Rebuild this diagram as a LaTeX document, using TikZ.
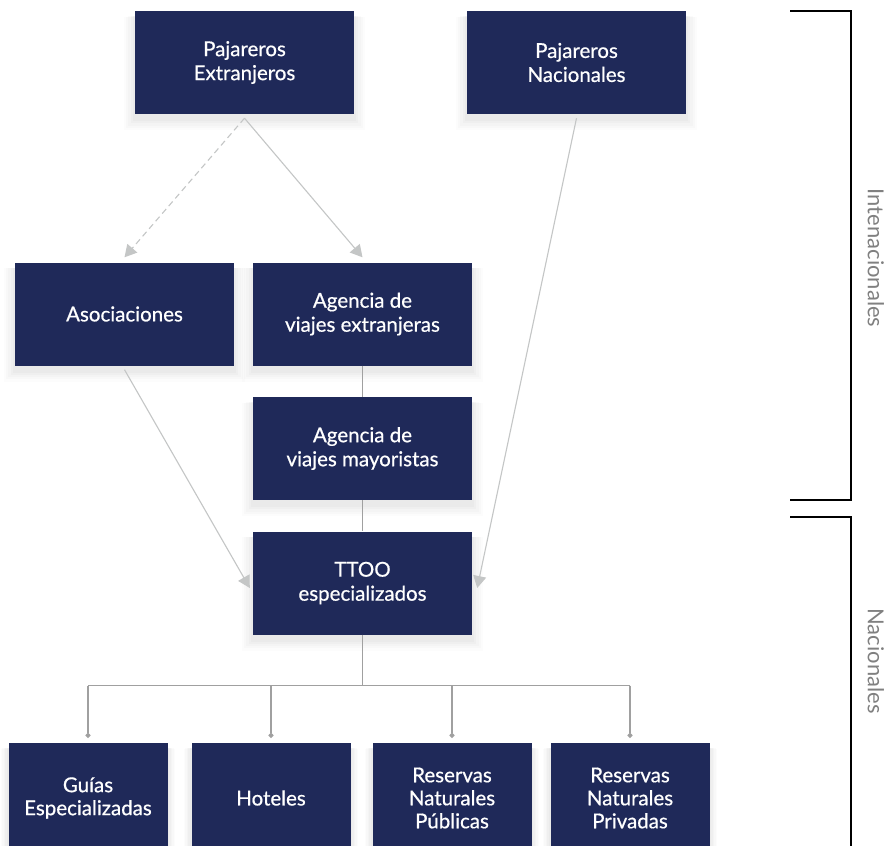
\documentclass[tikz,border=0pt]{standalone}
\usepackage{fontspec}
\setmainfont{Lato}
\newfontfamily\boxfont{Lato}[FakeBold=0.6]
\usetikzlibrary{arrows.meta,shadows}
\definecolor{navy}{RGB}{31,41,89}
\definecolor{linegray}{RGB}{196,198,198}
\definecolor{busgray}{RGB}{160,160,160}
\definecolor{labgray}{RGB}{128,128,128}
\begin{document}
\begin{tikzpicture}[x=1pt,y=-1pt,
  softshadow/.style={
    general shadow={fill=black,opacity=0.012,shadow yshift=-10pt,shadow scale=1.10},
    general shadow={fill=black,opacity=0.014,shadow yshift=-9pt,shadow scale=1.08},
    general shadow={fill=black,opacity=0.016,shadow yshift=-8pt,shadow scale=1.06},
    general shadow={fill=black,opacity=0.018,shadow yshift=-7pt,shadow scale=1.04},
    general shadow={fill=black,opacity=0.02,shadow yshift=-6pt,shadow scale=1.02}},
  box/.style={fill=navy,text=white,align=center,inner sep=0pt,
    minimum width=219pt,minimum height=103pt,
    font=\boxfont\fontsize{20.5}{24}\selectfont,softshadow},
  smallbox/.style={box,minimum width=159pt,minimum height=110pt,font=\boxfont\fontsize{20.5}{23}\selectfont},
  conn/.style={draw=linegray,line width=1.1pt,-{Triangle[length=12pt,width=13pt,fill=linegray]}},
  plain/.style={draw=busgray,line width=1.1pt},
  drop/.style={draw=busgray,line width=1.1pt,-{Circle[length=5pt]}},
  bracket/.style={draw=black,line width=1.8pt},
  sidelab/.style={text=labgray,rotate=-90,font=\fontsize{22}{26}\selectfont}]
\useasboundingbox[fill=white] (0,0) rectangle (892,846);

\node[box] (pe) at (244.5,62.5) {Pajareros\\Extranjeros};
\node[box] (pn) at (576.5,62.5) {Pajareros\\Nacionales};
\node[box] (as) at (124.5,314) {Asociaciones};
\node[box] (ave) at (362.5,314) {Agencia de\\viajes extranjeras};
\node[box] (avm) at (362.5,448.5) {Agencia de\\viajes mayoristas};
\node[box] (tt) at (362.5,583) {TTOO\\especializados};

\node[smallbox] (g1) at (88,798) {Guías\\Especializadas};
\node[smallbox] (g2) at (271,798) {Hoteles};
\node[smallbox] (g3) at (452,798) {Reservas\\Naturales\\Públicas};
\node[smallbox] (g4) at (630,798) {Reservas\\Naturales\\Privadas};

% connectors
\draw[conn,dashed,dash pattern=on 6pt off 4pt] ([yshift=-4pt]pe.south) -- ([yshift=5pt]as.north);
\draw[conn] ([yshift=-4pt]pe.south) -- ([yshift=5pt]ave.north);
\draw[conn] ([yshift=-4pt]pn.south) -- ([xshift=5pt,yshift=-5pt]tt.east);
\draw[conn] ([yshift=-4pt]as.south) -- ([xshift=-3pt,yshift=-5pt]tt.west);
\draw[plain] (ave.south) -- (avm.north);
\draw[plain] (avm.south) -- (tt.north);

\coordinate (bus) at ([yshift=-51pt]tt.south);
\draw[plain] (tt.south) -- (bus);
\draw[plain] (g1.north |- bus) -- (g4.north |- bus);
\foreach \b in {g1,g2,g3,g4}{
  \draw[drop] (\b.north |- bus) -- ([yshift=5pt]\b.north);
}

% brackets
\coordinate (b1a) at (790,11);
\coordinate (b1b) at (851,11);
\coordinate (b1c) at (851,500);
\coordinate (b1d) at (790,500);
\draw[bracket] (b1a) -- (b1b) -- (b1c) -- (b1d);
\coordinate (b2a) at (790,517);
\coordinate (b2b) at (851,517);
\coordinate (b2c) at (851,850);
\draw[bracket] (b2a) -- (b2b) -- (b2c);
\node[sidelab] (li) at (876,258) {Intenacionales};
\node[sidelab] (ln) at (876,661) {Nacionales};
\end{tikzpicture}
\end{document}
